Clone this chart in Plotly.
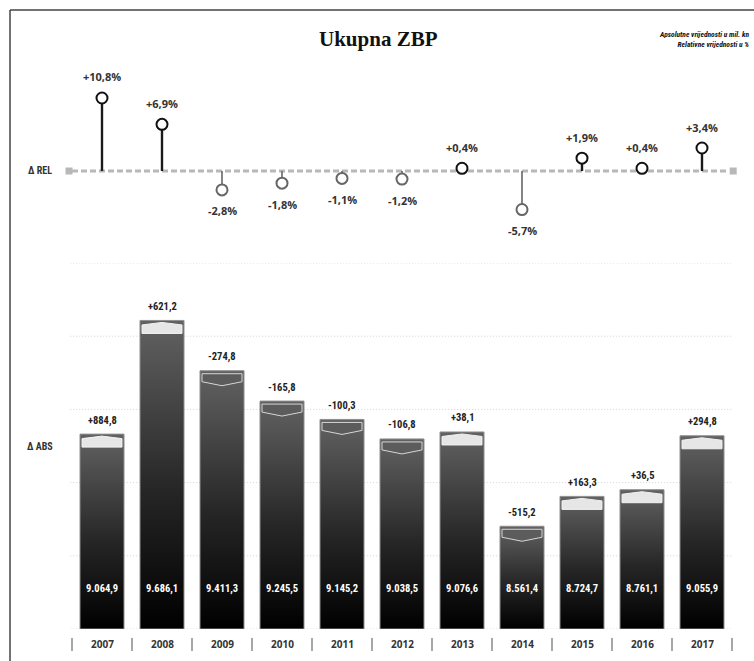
import plotly.graph_objects as go

W, H = 754, 661

# ---------------- data ----------------
years = ["2007", "2008", "2009", "2010", "2011", "2012", "2013", "2014", "2015", "2016", "2017"]
abs_values = [9064.9, 9686.1, 9411.3, 9245.5, 9145.2, 9038.5, 9076.6, 8561.4, 8724.7, 8761.1, 9055.9]
abs_delta = [884.8, 621.2, -274.8, -165.8, -100.3, -106.8, 38.1, -515.2, 163.3, 36.5, 294.8]
rel_delta = [10.8, 6.9, -2.8, -1.8, -1.1, -1.2, 0.4, -5.7, 1.9, 0.4, 3.4]
grid_values = [8000, 8400, 8800, 9200, 9600, 10000]

title_text = "Ukupna ZBP"
note_text = "Apsolutne vrijednosti u mil. kn<br>Relativne vrijednosti u %"
rel_label = "Δ REL"
abs_label = "Δ ABS"

# ---------------- helpers ----------------
def hr(v, sign=False):
    s = f"{abs(v):,.1f}".replace(",", "X").replace(".", ",").replace("X", ".")
    if v < 0:
        return "-" + s
    return ("+" + s) if sign else s

def PX(px):
    return px / W

def PY(py):
    return 1 - py / H

NARROW = "Liberation Sans Narrow, Roboto Condensed, Open Sans, sans-serif"
SANS = "Open Sans, Noto Sans, sans-serif"

# axis geometry (pixel-based)
X0_PX, STEP_PX = 102, 60
x_range = [-X0_PX / STEP_PX, (W - X0_PX) / STEP_PX]
BASE = 8000
bar_dom = [PY(629), PY(263)]
bar_range = [8000, 10000]
UY = (bar_range[1] - bar_range[0]) / (629 - 263)  # data units per px (bars)
UX = 1 / STEP_PX
rel_dom = [PY(230), PY(70)]
rel_px_per = 6.76
rel_range = [-(230 - 171) / rel_px_per, (171 - 70) / rel_px_per]

fig = go.Figure()
xs = list(range(len(years)))
hw = 22 * UX

# ---------------- bars with gradient ----------------
for i, v in zip(xs, abs_values):
    fig.add_trace(go.Scatter(
        x=[i - hw, i + hw, i + hw, i - hw, i - hw],
        y=[BASE, BASE, v, v, BASE],
        mode="lines", fill="toself",
        line=dict(color="#8e8e8e", width=1),
        fillgradient=dict(type="vertical",
                          colorscale=[[0, "#000000"], [0.45, "#262626"], [1, "#626262"]]),
        hoverinfo="skip", showlegend=False, xaxis="x", yaxis="y"))

# caps on top of bars
for i, v, d in zip(xs, abs_values, abs_delta):
    a = 20 * UX
    if d >= 0:
        cx = [i - a, i, i + a, i + a, i - a, i - a]
        cy = [v - 4.5 * UY, v - 2 * UY, v - 4.5 * UY, v - 13 * UY, v - 13 * UY, v - 4.5 * UY]
        fig.add_trace(go.Scatter(x=cx, y=cy, mode="lines", fill="toself",
                                 fillcolor="#e6e6e6", line=dict(color="#f2f2f2", width=1),
                                 hoverinfo="skip", showlegend=False))
    else:
        cx = [i - a, i + a, i + a, i, i - a, i - a]
        cy = [v - 3 * UY, v - 3 * UY, v - 11 * UY, v - 15 * UY, v - 11 * UY, v - 3 * UY]
        fig.add_trace(go.Scatter(x=cx, y=cy, mode="lines", fill="toself",
                                 fillcolor="#5c5c5c", line=dict(color="#d6d6d6", width=1),
                                 hoverinfo="skip", showlegend=False))

# ---------------- lollipops ----------------
pos_x, pos_y, neg_x, neg_y = [], [], [], []
for i, r in zip(xs, rel_delta):
    if r >= 0:
        pos_x += [i, i, None]; pos_y += [0, r, None]
    else:
        neg_x += [i, i, None]; neg_y += [0, r, None]

fig.add_trace(go.Scatter(x=[-0.55, 10.52], y=[0, 0], mode="markers",
                         marker=dict(symbol="square", size=7, color="#b8b8b8"),
                         xaxis="x", yaxis="y2", hoverinfo="skip", showlegend=False))
fig.add_trace(go.Scatter(x=neg_x, y=neg_y, mode="lines", line=dict(color="#666666", width=1.6),
                         xaxis="x", yaxis="y2", hoverinfo="skip", showlegend=False))
fig.add_trace(go.Scatter(x=pos_x, y=pos_y, mode="lines", line=dict(color="#1a1a1a", width=2.4),
                         xaxis="x", yaxis="y2", hoverinfo="skip", showlegend=False))
fig.add_trace(go.Scatter(
    x=xs, y=rel_delta, mode="markers",
    marker=dict(size=11, color="white",
                line=dict(width=2, color=["#111111" if r >= 0 else "#666666" for r in rel_delta])),
    xaxis="x", yaxis="y2", hoverinfo="skip", showlegend=False))

# ---------------- shapes ----------------
shapes = []
for g in grid_values:
    shapes.append(dict(type="line", xref="x", yref="y", x0=-0.53, x1=10.5, y0=g, y1=g,
                       line=dict(color="#d2d2d2", width=1, dash="1px,2px"), layer="below"))
shapes.append(dict(type="line", xref="x", yref="y2", x0=-0.5, x1=10.45, y0=0, y1=0,
                   line=dict(color="#b8b8b8", width=3, dash="6px,3px"), layer="below"))
# separators between years
for k in range(len(years) + 1):
    shapes.append(dict(type="line", xref="x", yref="paper", x0=k - 0.5, x1=k - 0.5,
                       y0=PY(651), y1=PY(638), line=dict(color="#8a8a8a", width=1.5)))
# frame
shapes.append(dict(type="line", xref="paper", yref="paper", x0=PX(10), x1=1.01, y0=PY(10), y1=PY(10),
                   line=dict(color="#444444", width=1.5)))
shapes.append(dict(type="line", xref="paper", yref="paper", x0=PX(10), x1=PX(10), y0=PY(10), y1=-0.01,
                   line=dict(color="#444444", width=1.5)))

# ---------------- annotations ----------------
ann = []
ann.append(dict(text=title_text, xref="paper", yref="paper", x=PX(378), y=PY(39),
                showarrow=False, xanchor="center", yanchor="middle",
                font=dict(family="Liberation Serif, DejaVu Serif, serif", size=21, color="#111111",
                          weight="bold")))
ann.append(dict(text=note_text, xref="paper", yref="paper", x=PX(751), y=PY(39),
                showarrow=False, xanchor="right", yanchor="middle", align="right",
                font=dict(family=NARROW, size=7.5, color="#111111", weight="bold", style="italic")))
ann.append(dict(text=rel_label, xref="paper", yref="paper", x=PX(26), y=PY(171),
                showarrow=False, xanchor="left", yanchor="middle",
                font=dict(family=NARROW, size=10, color="#333333", weight="bold")))
ann.append(dict(text=abs_label, xref="paper", yref="paper", x=PX(25), y=PY(446),
                showarrow=False, xanchor="left", yanchor="middle",
                font=dict(family=NARROW, size=10, color="#333333", weight="bold")))

for i, r in zip(xs, rel_delta):
    ann.append(dict(text=hr(r, sign=True) + "%", xref="x", yref="y2", x=i, y=r,
                    yshift=21 if r >= 0 else -21, showarrow=False,
                    xanchor="center", yanchor="middle",
                    font=dict(family=SANS, size=11, color="#333333", weight="bold")))

for i, v, d in zip(xs, abs_values, abs_delta):
    ann.append(dict(text=hr(d, sign=True), xref="x", yref="y", x=i, y=v, yshift=14,
                    showarrow=False, xanchor="center", yanchor="middle",
                    font=dict(family=NARROW, size=10.5, color="#222222", weight="bold")))
    ann.append(dict(text=hr(v), xref="x", yref="paper", x=i, y=PY(588),
                    showarrow=False, xanchor="center", yanchor="middle",
                    font=dict(family=NARROW, size=10.5, color="#ffffff", weight="bold")))

for i, yv in zip(xs, years):
    ann.append(dict(text=yv, xref="x", yref="paper", x=i, y=PY(644),
                    showarrow=False, xanchor="center", yanchor="middle",
                    font=dict(family=SANS, size=10, color="#333333", weight="bold")))

fig.update_layout(
    width=W, height=H, autosize=False,
    margin=dict(l=0, r=0, t=0, b=0),
    paper_bgcolor="white", plot_bgcolor="rgba(0,0,0,0)",
    xaxis=dict(range=x_range, domain=[0, 1], visible=False, fixedrange=True),
    yaxis=dict(range=bar_range, domain=bar_dom, visible=False, fixedrange=True),
    yaxis2=dict(range=rel_range, domain=rel_dom, visible=False, fixedrange=True, anchor="x"),
    shapes=shapes, annotations=ann, showlegend=False,
)

fig.write_html("out.html")
